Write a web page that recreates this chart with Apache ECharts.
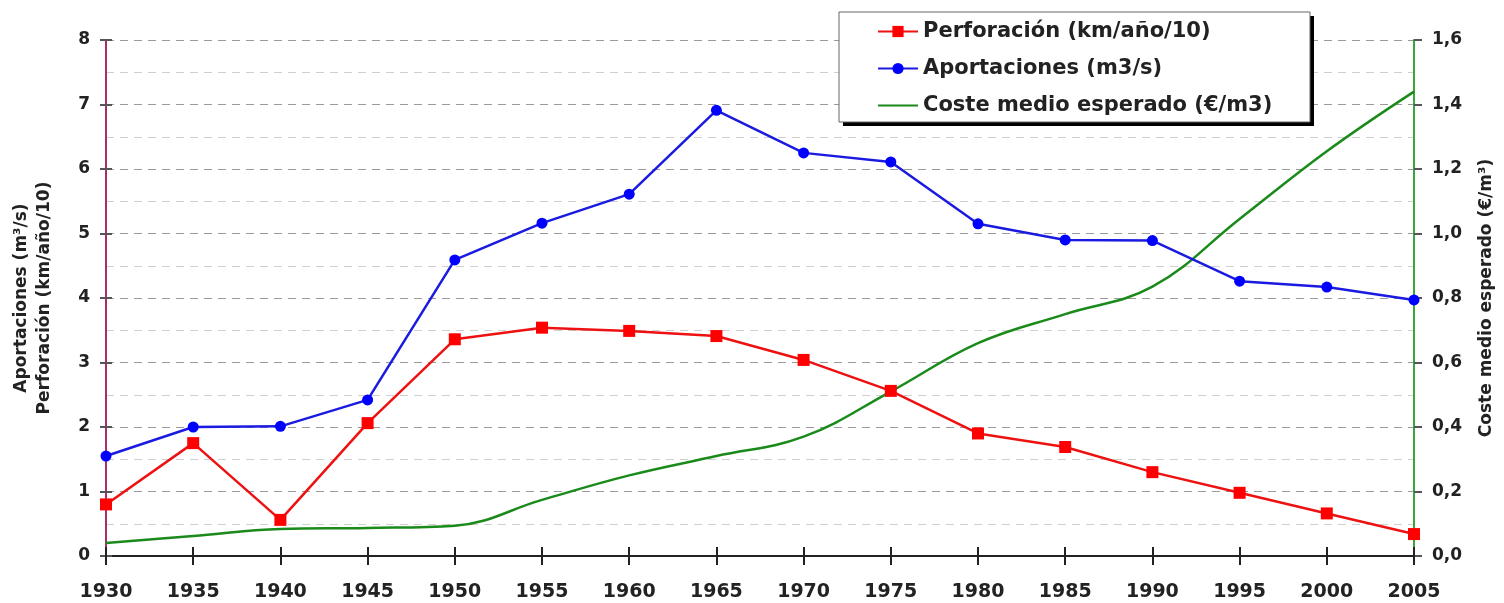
<!DOCTYPE html>
<html>
<head>
<meta charset="utf-8">
<script src="https://cdn.jsdelivr.net/npm/echarts@6/dist/echarts.min.js"></script>
<style>
  html, body { margin: 0; padding: 0; background: #fff; }
  #chart { width: 1504px; height: 603px; }
</style>
</head>
<body>
<div id="chart"></div>
<script>
// years on the x axis
var years = ['1930','1935','1940','1945','1950','1955','1960','1965','1970','1975','1980','1985','1990','1995','2000','2005'];
// Perforación (km/año/10), left axis
var perforacion = [0.8, 1.75, 0.56, 2.06, 3.36, 3.54, 3.49, 3.41, 3.04, 2.56, 1.9, 1.69, 1.3, 0.98, 0.66, 0.34];
// Aportaciones (m3/s), left axis
var aportaciones = [1.55, 2.0, 2.01, 2.42, 4.59, 5.16, 5.61, 6.91, 6.25, 6.11, 5.15, 4.9, 4.89, 4.26, 4.17, 3.97];
// Coste medio esperado (€/m3), right axis
var coste = [0.04, 0.062, 0.084, 0.087, 0.094, 0.174, 0.25, 0.31, 0.37, 0.51, 0.66, 0.75, 0.835, 1.045, 1.255, 1.44];

var names = ['Perforación (km/año/10)', 'Aportaciones (m3/s)', 'Coste medio esperado (€/m3)'];
var font = 'DejaVu Sans, sans-serif';

var chart = echarts.init(document.getElementById('chart'));
chart.setOption({
  animation: false,
  textStyle: { fontFamily: font },
  grid: { left: 106, right: 90, top: 40, bottom: 47 },
  // legend frame with the hard black drop shadow
  graphic: [
    { type: 'rect', z: 5, shape: { x: 843, y: 16, width: 471, height: 110 }, style: { fill: '#000' } },
    { type: 'rect', z: 6, shape: { x: 839, y: 12, width: 471, height: 110 }, style: { fill: '#fff', stroke: '#666', lineWidth: 1 } }
  ],
  legend: {
    orient: 'vertical',
    left: 839, top: 12,
    padding: [9, 40, 6, 38],
    itemGap: 16,
    itemWidth: 40,
    itemHeight: 14,
    z: 10,
    textStyle: { fontSize: 21, fontWeight: 'bold', color: '#222', fontFamily: font },
    data: [
      names[0],
      names[1],
      { name: names[2], itemStyle: { opacity: 0 } }
    ]
  },
  xAxis: [{
    type: 'category',
    data: years,
    boundaryGap: false,
    axisLine: { lineStyle: { color: '#222', width: 2 } },
    axisTick: { show: true, length: 9, lineStyle: { color: '#222', width: 2 } },
    axisLabel: { fontSize: 19, fontWeight: 'bold', color: '#222', margin: 27 }
  }, {
    type: 'category',
    data: years,
    boundaryGap: false,
    position: 'bottom',
    axisLine: { show: false },
    axisTick: { show: true, inside: true, length: 9, lineStyle: { color: '#222', width: 2 } },
    axisLabel: { show: false }
  }],
  yAxis: [{
    type: 'value',
    min: 0, max: 8, interval: 1,
    name: 'Aportaciones (m³/s)\nPerforación (km/año/10)',
    nameLocation: 'middle',
    nameRotate: 90,
    nameGap: 50,
    nameTextStyle: { fontSize: 17, fontWeight: 'bold', color: '#222', lineHeight: 23 },
    axisLine: { show: true, lineStyle: { color: '#a8306a', width: 2 } },
    axisTick: { show: true, length: 6, lineStyle: { color: '#555', width: 2 } },
    axisLabel: { fontSize: 17, fontWeight: 'bold', color: '#222', margin: 16 },
    splitLine: { show: true, lineStyle: { color: '#9a9a9a', type: [8, 6] } },
    minorTick: { show: false, splitNumber: 2 },
    minorSplitLine: { show: true, lineStyle: { color: '#cfcfcf', type: [8, 6] } }
  }, {
    type: 'value',
    min: 0, max: 1.6, interval: 0.2,
    position: 'right',
    name: 'Coste medio esperado (€/m³)',
    nameLocation: 'middle',
    nameRotate: 90,
    nameGap: 64,
    nameTextStyle: { fontSize: 17, fontWeight: 'bold', color: '#222' },
    axisLine: { show: true, lineStyle: { color: '#3aa53a', width: 2 } },
    axisTick: { show: true, length: 8, lineStyle: { color: '#555', width: 2 } },
    axisLabel: {
      fontSize: 17, fontWeight: 'bold', color: '#222', margin: 18,
      formatter: function (v) { return v.toFixed(1).replace('.', ','); }
    },
    splitLine: { show: false }
  }, {
    // inner half of the left ticks
    type: 'value',
    min: 0, max: 8, interval: 1,
    position: 'left',
    axisLine: { show: false },
    axisTick: { show: true, inside: true, length: 6, lineStyle: { color: '#555', width: 2 } },
    axisLabel: { show: false },
    splitLine: { show: false }
  }],
  series: [{
    name: names[0],
    type: 'line',
    data: perforacion,
    symbol: 'rect',
    symbolSize: 12,
    itemStyle: { color: '#ff0000' },
    lineStyle: { color: '#ee1111', width: 2.5 },
    z: 3
  }, {
    name: names[1],
    type: 'line',
    data: aportaciones,
    symbol: 'circle',
    symbolSize: 11,
    itemStyle: { color: '#0000ff' },
    lineStyle: { color: '#1a1ae0', width: 2.5 },
    z: 3
  }, {
    name: names[2],
    type: 'line',
    yAxisIndex: 1,
    data: coste,
    smooth: 0.4,
    showSymbol: false,
    symbol: 'none',
    itemStyle: { color: '#1a8a1a' },
    lineStyle: { color: '#1a8a1a', width: 2.5 },
    z: 2
  }]
});
</script>
</body>
</html>
